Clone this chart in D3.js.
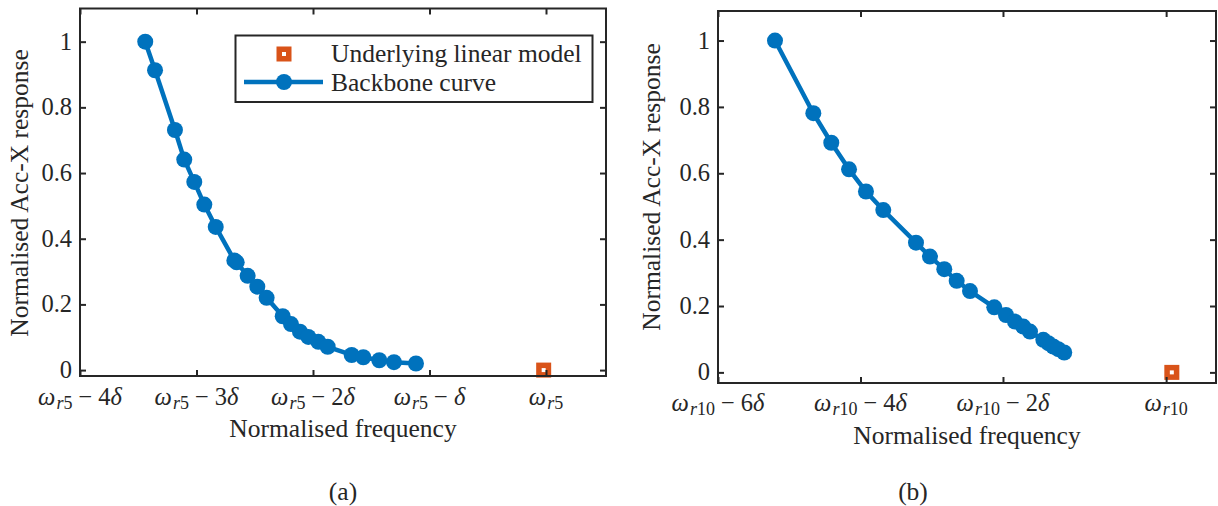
<!DOCTYPE html>
<html>
<head>
<meta charset="utf-8">
<script src="https://cdn.jsdelivr.net/npm/d3@7"></script>
<style>
  html, body { margin: 0; padding: 0; background: #fff; }
  svg { display: block; }
  text { font-family: "Liberation Serif", "Times New Roman", serif; fill: #262626; }
</style>
</head>
<body>
<svg id="chart" width="1218" height="506"></svg>
<script>
// ---------------- data ----------------
// Panel (a): backbone curve around mode 5 (x in units of delta relative to omega_r5)
const freqA = [-3.44, -3.356, -3.185, -3.105, -3.019, -2.933, -2.835, -2.675, -2.655, -2.561, -2.478, -2.398, -2.26, -2.189, -2.112, -2.04, -1.954, -1.874, -1.668, -1.568, -1.431, -1.305, -1.116];
const respA = [1.0, 0.913, 0.731, 0.641, 0.573, 0.504, 0.436, 0.334, 0.328, 0.287, 0.254, 0.220, 0.164, 0.140, 0.117, 0.101, 0.086, 0.071, 0.046, 0.039, 0.030, 0.024, 0.020];
const linFreqA = [-0.02];
const linRespA = [0];
const xTicksA = [-4, -3, -2, -1, 0];
const xTickLabelsA = ["ω_r5 − 4δ", "ω_r5 − 3δ", "ω_r5 − 2δ", "ω_r5 − δ", "ω_r5"];
const xDomainA = [-4, 0.515];
const yDomainA = [-0.018, 1.101];

// Panel (b): backbone curve around mode 10
const freqB = [-5.2, -4.662, -4.41, -4.161, -3.923, -3.68, -3.221, -3.025, -2.824, -2.65, -2.463, -2.122, -1.958, -1.832, -1.715, -1.621, -1.434, -1.364, -1.294, -1.224, -1.14];
const respB = [1.0, 0.781, 0.692, 0.612, 0.545, 0.489, 0.391, 0.349, 0.311, 0.276, 0.245, 0.196, 0.173, 0.153, 0.138, 0.123, 0.098, 0.088, 0.078, 0.070, 0.060];
const linFreqB = [0.37];
const linRespB = [0];
const xTicksB = [-6, -4, -2, 0.29];
const xTickLabelsB = ["ω_r10 − 6δ", "ω_r10 − 4δ", "ω_r10 − 2δ", "ω_r10"];
const xDomainB = [-6, 0.99];
const yDomainB = [-0.032, 1.089];

const yTicks = [0, 0.2, 0.4, 0.6, 0.8, 1];
const yTickLabels = ["0", "0.2", "0.4", "0.6", "0.8", "1"];

const xLabel = "Normalised frequency";
const yLabel = "Normalised Acc-X response";
const legendLabels = ["Underlying linear model", "Backbone curve"];
const panelLabels = ["(a)", "(b)"];

// ---------------- styles ----------------
const BLUE = "#0072BD", ORANGE = "#D95319", AXIS = "#262626";
const FS = 25.5;     // labels / legend
const FS_TICK = 24.5;

const svg = d3.select("#chart");

function mathLabel(sel, label) {
  // label like "ω_r5 − 4δ"
  const m = label.match(/^ω_(\w+)(.*)$/);
  const sub = m[1], rest = m[2].trim();
  sel.append("tspan").attr("font-style", "italic").text("ω");
  let first = true;
  for (const part of sub.match(/[a-z]+|\d+/g)) {
    const t = sel.append("tspan").attr("font-size", 18)
      .attr("font-style", /[a-z]/.test(part) ? "italic" : "normal").text(part);
    if (first) { t.attr("dy", 4).attr("dx", 1); first = false; }
  }
  if (rest.length) {
    const tokens = rest.replace(/\s+/g, "").match(/−|δ|[^−δ]+/g);
    tokens.forEach((tok, k) => {
      const t = sel.append("tspan").attr("font-style", tok === "δ" ? "italic" : "normal").text(tok);
      if (tok === "−" || tokens[k - 1] === "−") t.attr("dx", 6);
      if (k === 0) t.attr("dy", -4);
    });
  }
}

function drawPanel(cfg) {
  const { left, right, top, bottom } = cfg.box;
  const x = d3.scaleLinear().domain(cfg.xDomain).range([left, right]);
  const y = d3.scaleLinear().domain(cfg.yDomain).range([bottom, top]);
  const g = svg.append("g");

  const pts = cfg.freq.map((f, i) => [f, cfg.resp[i]]);
  g.append("path").datum(pts)
    .attr("d", d3.line().x(d => x(d[0])).y(d => y(d[1])))
    .attr("fill", "none").attr("stroke", BLUE).attr("stroke-width", 4.5)
    .attr("stroke-linejoin", "round");
  g.selectAll("circle.bb").data(pts).join("circle")
    .attr("cx", d => x(d[0])).attr("cy", d => y(d[1])).attr("r", 8).attr("fill", BLUE);

  const lin = cfg.linFreq.map((f, i) => [f, cfg.linResp[i]]);
  lin.forEach(d => drawSquare(g, x(d[0]), y(d[1])));

  const tickLen = 6;
  const ax = g.append("g");
  const axB = d3.axisBottom(x).tickValues(cfg.xTicks).tickSize(-tickLen).tickFormat("");
  const axT = d3.axisTop(x).tickValues(cfg.xTicks).tickSize(-tickLen).tickFormat("");
  const axL = d3.axisLeft(y).tickValues(yTicks).tickSize(-tickLen).tickFormat("");
  const axR = d3.axisRight(y).tickValues(yTicks).tickSize(-tickLen).tickFormat("");
  [[axB, `translate(0,${bottom})`], [axT, `translate(0,${top})`],
   [axL, `translate(${left},0)`], [axR, `translate(${right},0)`]].forEach(([a, tr]) => {
    const s = ax.append("g").attr("transform", tr).call(a);
    s.select(".domain").remove();
    s.selectAll(".tick line").attr("stroke", AXIS).attr("stroke-width", 2);
  });
  ax.append("rect").attr("x", left).attr("y", top).attr("width", right - left).attr("height", bottom - top)
    .attr("fill", "none").attr("stroke", AXIS).attr("stroke-width", 2);

  g.selectAll("text.ytl").data(yTicks).join("text")
    .attr("x", left - 8).attr("y", d => y(d) + 8)
    .attr("text-anchor", "end").attr("font-size", FS_TICK)
    .text((d, i) => yTickLabels[i]);

  cfg.xTicks.forEach((v, i) => {
    const t = g.append("text").attr("x", x(v)).attr("y", cfg.xTickBaseline)
      .attr("text-anchor", "middle").attr("font-size", FS_TICK);
    mathLabel(t, cfg.xTickLabels[i]);
  });

  g.append("text").attr("x", (left + right) / 2).attr("y", cfg.xLabelBaseline)
    .attr("text-anchor", "middle").attr("font-size", FS).text(xLabel);
  g.append("text").attr("transform", `translate(${cfg.yLabelX},${cfg.yLabelY}) rotate(-90)`)
    .attr("text-anchor", "middle").attr("font-size", FS).text(yLabel);

  g.append("text").attr("x", cfg.panelX).attr("y", 500)
    .attr("text-anchor", "middle").attr("font-size", FS).text(cfg.panelLabel);

  return { g, x, y };
}

function drawSquare(g, cx, cy) {
  g.append("rect").attr("x", cx - 7.5).attr("y", cy - 7.5).attr("width", 15).attr("height", 15).attr("fill", ORANGE);
  g.append("rect").attr("x", cx - 2).attr("y", cy - 2).attr("width", 4).attr("height", 4).attr("fill", "#fff");
}

const pA = drawPanel({
  box: { left: 80, right: 606, top: 8.5, bottom: 376 },
  xDomain: xDomainA, yDomain: yDomainA,
  freq: freqA, resp: respA, linFreq: linFreqA, linResp: linRespA,
  xTicks: xTicksA, xTickLabels: xTickLabelsA,
  xTickBaseline: 405, xLabelBaseline: 437, yLabelX: 28, yLabelY: 193,
  panelX: 343, panelLabel: panelLabels[0]
});

drawPanel({
  box: { left: 718, right: 1216, top: 11, bottom: 383 },
  xDomain: xDomainB, yDomain: yDomainB,
  freq: freqB, resp: respB, linFreq: linFreqB, linResp: linRespB,
  xTicks: xTicksB, xTickLabels: xTickLabelsB,
  xTickBaseline: 411, xLabelBaseline: 444, yLabelX: 660, yLabelY: 187,
  panelX: 913, panelLabel: panelLabels[1]
});

// legend (panel a)
const lg = pA.g.append("g");
lg.append("rect").attr("x", 235.5).attr("y", 35.5).attr("width", 357).attr("height", 66.5)
  .attr("fill", "#fff").attr("stroke", AXIS).attr("stroke-width", 2);
drawSquare(lg, 284, 54);
lg.append("line").attr("x1", 244).attr("x2", 323).attr("y1", 82).attr("y2", 82)
  .attr("stroke", BLUE).attr("stroke-width", 4.5);
lg.append("circle").attr("cx", 284).attr("cy", 82).attr("r", 8).attr("fill", BLUE);
lg.append("text").attr("x", 331).attr("y", 61.5).attr("font-size", FS).text(legendLabels[0]);
lg.append("text").attr("x", 331).attr("y", 90.5).attr("font-size", FS).text(legendLabels[1]);
</script>
</body>
</html>
